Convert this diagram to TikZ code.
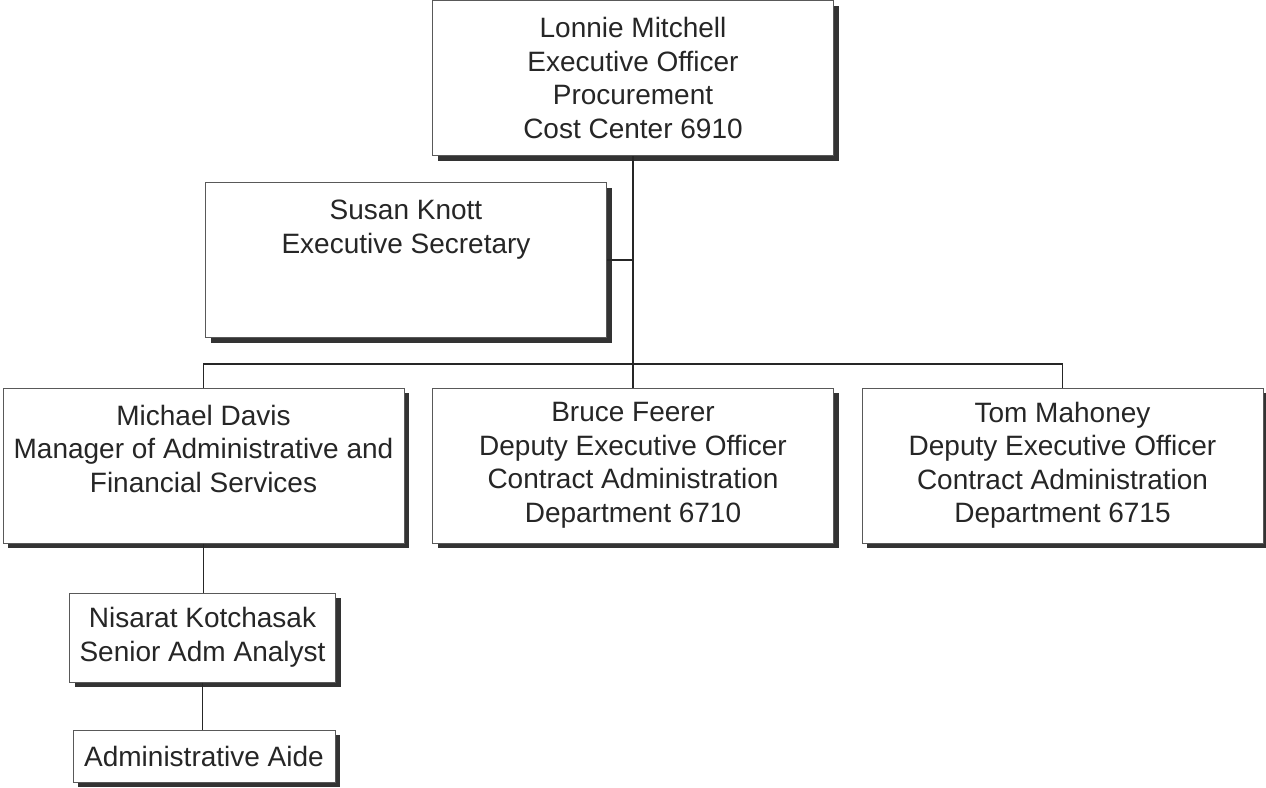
\documentclass[tikz,border=0pt]{standalone}
\usepackage{fontspec}
\setmainfont{Liberation Sans}
\usetikzlibrary{shadows,calc}
\begin{document}
\begin{tikzpicture}[x=1pt,y=-1pt,
  orgbox/.style={draw=black!65, line width=1pt, fill=white, align=center, inner sep=0pt,
    font=\fontsize{28}{33.5}\selectfont, text=black!85,
    drop shadow={shadow xshift=5pt, shadow yshift=-5pt, fill=black!80, opacity=1}},
  big/.style={orgbox, minimum width=401pt, minimum height=155pt},
  small/.style={orgbox, minimum width=266pt},
  link/.style={draw=black!85, line width=1.6pt}]
\useasboundingbox (0,0) rectangle (1266,787);

\node[big] (top) at (633,78) {Lonnie Mitchell\\Executive Officer\\Procurement\\Cost Center 6910};
\node[big] (susan) at (406,260) {Susan Knott\\Executive Secretary\\~\\~};
\node[big] (michael) at (203.5,465.5) {Michael Davis\\Manager of Administrative and\\Financial Services\\~};
\node[big] (bruce) at (633,465.5) {Bruce Feerer\\Deputy Executive Officer\\Contract Administration\\Department 6710};
\node[big] (tom) at (1062.5,465.5) {Tom Mahoney\\Deputy Executive Officer\\Contract Administration\\Department 6715};
\node[small, minimum height=89pt] (nisarat) at (202.5,637.5) {Nisarat Kotchasak\\Senior Adm Analyst};
\node[orgbox, minimum width=262pt, minimum height=52pt] (aide) at (204,756) {Administrative Aide};

\coordinate (bus) at (633,364);
\begin{scope}[on background layer/.try]
\end{scope}
\draw[link] (top.south) -- (bus);
\draw[link] (susan.east) -- (susan.east -| top.south);
\draw[link] (michael.north) |- (bus) -| (tom.north);
\draw[link] (bus) -- (bruce.north);
\draw[link] (michael.south) -- (michael.south |- nisarat.north);
\draw[link] (nisarat.south) -- (nisarat.south |- aide.north);
\end{tikzpicture}
\end{document}
